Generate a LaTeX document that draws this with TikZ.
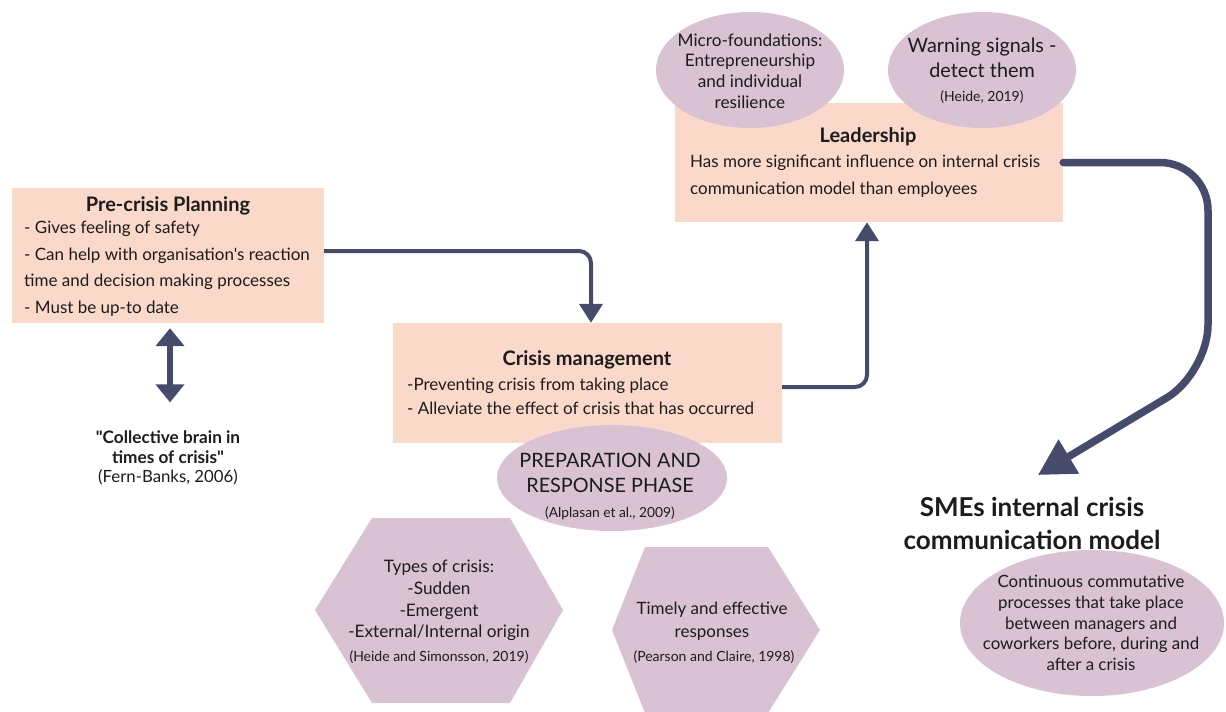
\documentclass[tikz,border=0pt]{standalone}
\usepackage{fontspec}
\setmainfont{Lato}[Ligatures=TeXOff]
\usetikzlibrary{arrows.meta,shapes.geometric}
\definecolor{peach}{RGB}{250,216,202}
\definecolor{lav}{RGB}{217,194,211}
\definecolor{arrowc}{RGB}{70,74,107}
\definecolor{textc}{RGB}{28,28,28}
\newcommand\setfs[2]{\fontsize{#1}{#2}\selectfont}
\begin{document}
\begin{tikzpicture}[x=1pt,y=-1pt,
  box/.style={fill=peach, draw=none, inner sep=0, rectangle},
  ell/.style={ellipse, fill=lav, draw=none, inner sep=0},
  hexa/.style={fill=lav, draw=none},
  ttl/.style={font=\bfseries\setfs{20}{22}, inner sep=0, text=textc},
  bodytxt/.style={font=\setfs{17}{26.5}, align=left, anchor=west, inner sep=0, text=textc},
  ctxt/.style={align=center, inner sep=0, text=textc},
  arr/.style={draw=arrowc, line width=4pt, rounded corners=12pt, -{Triangle[width=23pt,length=19pt]}},
  dbl/.style={draw=arrowc, line width=6pt, {Triangle[width=28pt,length=18pt]}-{Triangle[width=28pt,length=18pt]}},
  bigarr/.style={draw=arrowc, line width=7.5pt, line cap=round, rounded corners=48pt, -{Triangle[width=38pt,length=36pt]}}
]
\useasboundingbox (0,0) rectangle (1226,712);

% Pre-crisis planning
\node[box, minimum width=312pt, minimum height=135pt] (pre) at (168,255.5) {};
\node[ttl] (pretitle) at (168,206) {Pre-crisis Planning};
\node[bodytxt] (prebody) at (24,268.5) {- Gives feeling of safety\\- Can help with organisation's reaction\\time and decision making processes\\- Must be up-to date};

% Collective brain
\node[ctxt, font=\bfseries\setfs{17.2}{20}] (coll) at (168,447) {"Collective brain in\\times of crisis"};
\node[ctxt, font=\setfs{16.8}{20}] (fern) at (168,477) {(Fern-Banks, 2006)};

% Crisis management
\node[box, minimum width=389pt, minimum height=120pt] (crisis) at (587.5,383) {};
\node[ttl] (crisistitle) at (587,360) {Crisis management};
\node[bodytxt, font=\setfs{17}{23.5}] (crisisbody) at (407,396.5) {-Preventing crisis from taking place\\- Alleviate the effect of crisis that has occurred};

% Leadership
\node[box, minimum width=388pt, minimum height=119pt] (lead) at (869,162.5) {};
\node[ttl] (leadtitle) at (868,137) {Leadership};
\node[bodytxt, font=\setfs{17}{27}] (leadbody) at (690,176.5) {Has more significant influence on internal crisis\\communication model than employees};

% Ellipses on top of leadership
\node[ell, minimum width=188pt, minimum height=116pt] (micro) at (750,70) {};
\node[ctxt, font=\setfs{17.2}{20.7}] (microtxt) at (750,71) {Micro-foundations:\\Entrepreneurship\\and individual\\resilience};
\node[ell, minimum width=188pt, minimum height=116pt] (warn) at (982,70) {};
\node[ctxt, font=\setfs{19.8}{25}] (warntxt) at (982,57.5) {Warning signals -\\detect them};
\node[ctxt, font=\setfs{14}{16}] (warncite) at (982,97) {(Heide, 2019)};

% Preparation ellipse
\node[ell, minimum width=230pt, minimum height=106pt] (prep) at (612,478) {};
\node[ctxt, font=\setfs{19.8}{25}] (preptxt) at (610,472.5) {PREPARATION AND\\RESPONSE PHASE};
\node[ctxt, font=\setfs{13.8}{16}] (prepcite) at (610,513) {(Alplasan et al., 2009)};

% Hexagons
\fill[hexa] (315,610) -- (372,518) -- (510,518) -- (563,610) -- (510,703) -- (372,703) -- cycle;
\node[ctxt, font=\setfs{17.2}{21.7}] (typestxt) at (439,600.5) {Types of crisis:\\-Sudden\\-Emergent\\-External/Internal origin};
\node[ctxt, font=\setfs{14}{16}] (typescite) at (439,657) {(Heide and Simonsson, 2019)};

\fill[hexa] (612,630) -- (645,547) -- (768,547) -- (820,630) -- (768,713) -- (645,713) -- cycle;
\node[ctxt, font=\setfs{17}{23}] (timelytxt) at (712,621.5) {Timely and effective\\responses};
\node[ctxt, font=\setfs{14}{16}] (timelycite) at (714,657) {(Pearson and Claire, 1998)};

% SMEs
\node[ctxt, font=\bfseries\setfs{26}{33}] (sme) at (1032,523) {SMEs internal crisis\\communication model};
\node[ell, minimum width=264pt, minimum height=146pt] (smeell) at (1092,623) {};
\node[ctxt, font=\setfs{16.9}{20.7}] (smetxt) at (1091,623) {Continuous commutative\\processes that take place\\between managers and\\coworkers before, during and\\after a crisis};
\coordinate (smetip) at (1038,475);

% Connectors
\draw[arr] ([yshift=4.5pt]pre.east) -| ([xshift=3.5pt]crisis.north);
\draw[arr] ([yshift=-4pt]crisis.east) -| ([xshift=-2pt]lead.south);
\draw[dbl] ([xshift=2pt,yshift=-5pt]pre.south) -- ([xshift=2pt,yshift=28pt]coll.north);
\draw[bigarr] (lead.east) -- (1208,162.5) -- (1208,373) -- (smetip);
\end{tikzpicture}
\end{document}
